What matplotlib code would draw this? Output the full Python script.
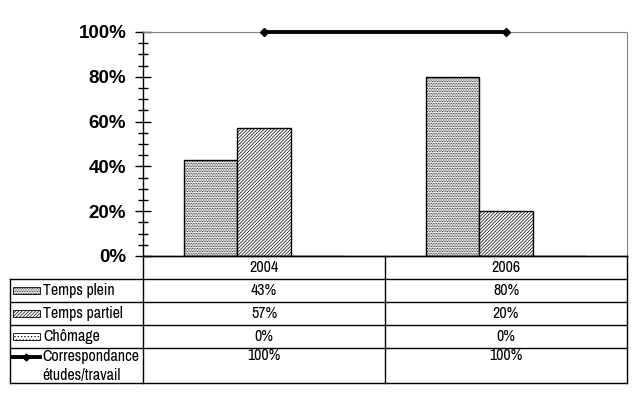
import matplotlib
matplotlib.use('Agg')
import matplotlib.pyplot as plt
from matplotlib import font_manager
from matplotlib.patches import Rectangle

years = ['2004', '2006']
series = ['Temps plein', 'Temps partiel', 'Chômage']
plein = [43, 80]
partiel = [57, 20]
chomage = [0, 0]
correspondance = [100, 100]
line_label = 'Correspondance\nétudes/travail'

hatches = ['..........', '//////////', '.....']

# narrow font for the data table, if one is around
tabfont = dict(family='Liberation Sans', size=8.5)
for f in font_manager.fontManager.ttflist:
  if 'Narrow' in f.name:
    tabfont = dict(family=f.name, size=11.5)
    break

plt.rcParams['hatch.linewidth'] = 0.5
fig = plt.figure(figsize=(6.4, 4.0), dpi=100)
W, H = 640.0, 400.0
ax = fig.add_axes([143/W, 1-256/H, (627-143)/W, (256-32)/H])

# bars
bw = 0.22
vals = [plein, partiel, chomage]
for k in range(len(series)):
  xs = [i + 0.5 + (k-1)*bw for i in range(len(years))]
  ax.bar(xs, vals[k], width=bw, facecolor='white', edgecolor='black',
         hatch=hatches[k], linewidth=1.0)

xs = [i + 0.5 for i in range(len(years))]
ax.plot(xs, correspondance, color='black', lw=2.8, marker='D', ms=4,
        clip_on=False, zorder=5)

ax.set_xlim(0, len(years))
ax.set_ylim(0, 100)
ax.set_yticks(range(0, 101, 20))
ax.set_yticklabels([str(v) + '%' for v in range(0, 101, 20)],
                   family='Liberation Sans', weight='bold', fontsize=13.5)
ax.set_yticks(range(0, 101, 5), minor=True)
ax.tick_params(axis='y', which='major', direction='inout', length=12, width=1, pad=6)
ax.tick_params(axis='y', which='minor', direction='inout', length=7, width=1)
ax.set_xticks([])
for s in ['top', 'right']:
  ax.spines[s].set_color('gray')
  ax.spines[s].set_linestyle((0, (1, 1)))
  ax.spines[s].set_linewidth(0.8)
ax.spines['left'].set_linewidth(1)
ax.spines['bottom'].set_linewidth(1)

# data table under the chart
tab = fig.add_axes([0, 0, 1, 1])
tab.set_xlim(0, W)
tab.set_ylim(H, 0)
tab.axis('off')
lk = dict(color='black', lw=1)
rows = [256, 279, 302, 325, 348, 383]
cols = [143, 385, 627]
tab.plot([143, 627], [256, 256], **lk)
for y in rows[1:]:
  tab.plot([10, 627], [y, y], **lk)
tab.plot([10, 10], [279, 383], **lk)
for x in cols:
  tab.plot([x, x], [256, 383], **lk)

centers = [(cols[i] + cols[i+1]) / 2 for i in range(len(years))]
for i, yr in enumerate(years):
  tab.text(centers[i], 268, yr, ha='center', va='center', **tabfont)
for k in range(len(series)):
  ym = (rows[k+1] + rows[k+2]) / 2
  tab.add_patch(Rectangle((13, ym-3.5), 27, 7, facecolor='white',
                          edgecolor='black', hatch=hatches[k], lw=0.6))
  tab.text(43, ym, series[k], ha='left', va='center', **tabfont)
  for i in range(len(years)):
    tab.text(centers[i], ym, str(vals[k][i]) + '%', ha='center', va='center', **tabfont)

tab.plot([12, 40], [357, 357], color='black', lw=2.8)
tab.plot([26], [357], color='black', marker='D', ms=3.5)
tab.text(42, 366, line_label, ha='left', va='center', linespacing=1.3, **tabfont)
for i in range(len(years)):
  tab.text(centers[i], 356, str(correspondance[i]) + '%', ha='center', va='center', **tabfont)

fig.savefig('out.png', dpi=100)
